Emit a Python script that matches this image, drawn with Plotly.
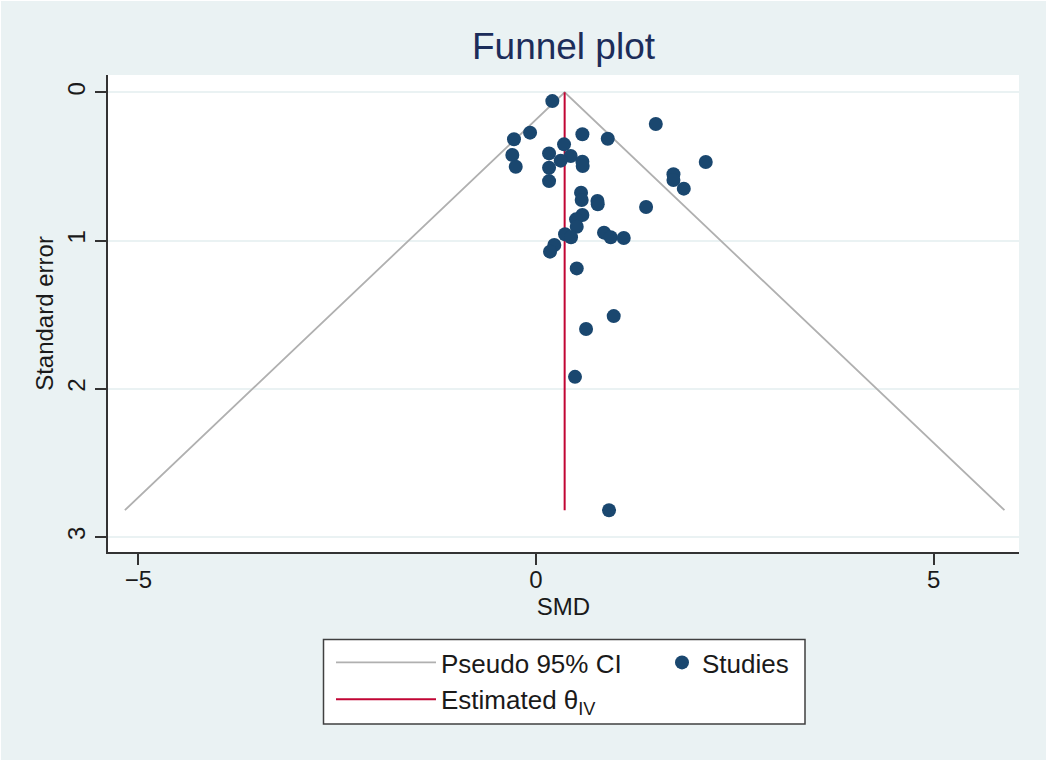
import plotly.graph_objects as go

# ---- data ----
smd = [0.205, 1.506, -0.075, -0.277, 0.583, 0.902, 0.352, -0.298, 0.164, 0.436,
       0.31, -0.255, 0.164, 0.583, 0.587, 2.134, 0.164, 1.728, 1.728, 1.858,
       0.566, 0.574, 0.772, 0.776, 1.384, 0.583, 0.503, 0.512, 0.365, 0.44,
       0.855, 0.939, 1.103, 0.23, 0.176, 0.512, 0.977, 0.629, 0.49, 0.918]
se = [0.059, 0.214, 0.272, 0.317, 0.283, 0.313, 0.351, 0.423, 0.412, 0.43,
      0.461, 0.502, 0.509, 0.468, 0.497, 0.47, 0.599, 0.553, 0.592, 0.65,
      0.677, 0.727, 0.733, 0.756, 0.774, 0.828, 0.857, 0.907, 0.958, 0.978,
      0.947, 0.978, 0.983, 1.03, 1.075, 1.188, 1.51, 1.597, 1.92, 2.82]
ci_x = [-5.17, 0.36, 5.89]
ci_y = [2.82, 0.0, 2.82]
theta_x = [0.36, 0.36]
theta_y = [0.0, 2.82]
x_ticks = [-5, 0, 5]
y_ticks = [0, 1, 2, 3]

FONT = "Liberation Sans, Arial, sans-serif"
BG = "#eaf2f3"
NAVY = "#1a476f"
RED = "#c10534"
GREY = "#b0b0b0"

W, H = 1050, 767
L, R, T, B = 108, 31, 75, 215
PW, PH = W - L - R, H - T - B


def px_x(p):
    return (p - L) / PW


def px_y(p):
    return (H - B - p) / PH


fig = go.Figure()
fig.add_trace(go.Scatter(x=ci_x, y=ci_y, mode="lines", name="Pseudo 95% CI",
                         line=dict(color=GREY, width=1.8), legend="legend"))
fig.add_trace(go.Scatter(x=theta_x, y=theta_y, mode="lines",
                         name="Estimated θ<sub>IV</sub>",
                         line=dict(color=RED, width=2), legend="legend"))
fig.add_trace(go.Scatter(x=smd, y=se, mode="markers", name="Studies",
                         marker=dict(color=NAVY, size=14, line=dict(width=0)),
                         legend="legend2"))

shapes = [
    dict(type="rect", xref="paper", yref="paper", layer="below",
         x0=px_x(1), x1=px_x(1046), y0=px_y(760), y1=px_y(1),
         fillcolor=BG, line=dict(width=0)),
    dict(type="rect", xref="paper", yref="paper", layer="below",
         x0=0, x1=1, y0=0, y1=1, fillcolor="white", line=dict(width=0)),
    dict(type="rect", xref="paper", yref="paper", layer="below",
         x0=px_x(323.5), x1=px_x(805), y0=px_y(724), y1=px_y(639.5),
         fillcolor="white", line=dict(color="#404040", width=1.5)),
]

fig.update_layout(
    width=W, height=H,
    margin=dict(l=L, r=R, t=T, b=B, autoexpand=False),
    paper_bgcolor="white", plot_bgcolor="white",
    font=dict(family=FONT, color="#1a1a1a"),
    shapes=shapes,
    title=dict(text="Funnel plot", x=0.5, xref="paper", xanchor="center",
               y=1 - 46 / H, yref="container", yanchor="middle",
               font=dict(size=37, color="#1c2d5a", family=FONT)),
    xaxis=dict(range=[-5.382, 6.073], tickvals=x_ticks, ticks="outside",
               ticklen=11, tickwidth=1.5, tickcolor="#333", showgrid=False,
               zeroline=False, showline=True, linecolor="#333", linewidth=1.5,
               tickfont=dict(size=24, family=FONT, color="#1a1a1a"),
               ticklabelstandoff=-6,
               title=dict(text="SMD", font=dict(size=24, family=FONT, color="#1a1a1a"),
                          standoff=7)),
    yaxis=dict(range=[3.102, -0.117], tickvals=y_ticks, ticks="outside",
               ticklen=11, tickwidth=1.5, tickcolor="#333", showgrid=True,
               gridcolor=BG, gridwidth=1.5, zeroline=False, showline=True,
               linecolor="#333", linewidth=1.5, tickangle=-90,
               tickfont=dict(size=24, family=FONT, color="#1a1a1a"),
               ticklabelstandoff=1,
               title=dict(text="Standard error",
                          font=dict(size=24, family=FONT, color="#1a1a1a"),
                          standoff=2)),
    legend=dict(x=px_x(331), y=px_y(639), xanchor="left", yanchor="top",
                orientation="v", itemwidth=100, borderwidth=0,
                bgcolor="rgba(0,0,0,0)", tracegroupgap=0,
                font=dict(size=26, family=FONT, color="#1a1a1a")),
    legend2=dict(x=px_x(662), y=px_y(639), xanchor="left", yanchor="top",
                 orientation="v", itemwidth=30, borderwidth=0,
                 bgcolor="rgba(0,0,0,0)",
                 font=dict(size=26, family=FONT, color="#1a1a1a")),
    showlegend=True,
)

fig.write_html("out.html",
               config={"displayModeBar": False},
               post_script="document.body.style.margin='0';"
                           "document.body.style.overflow='hidden';")
